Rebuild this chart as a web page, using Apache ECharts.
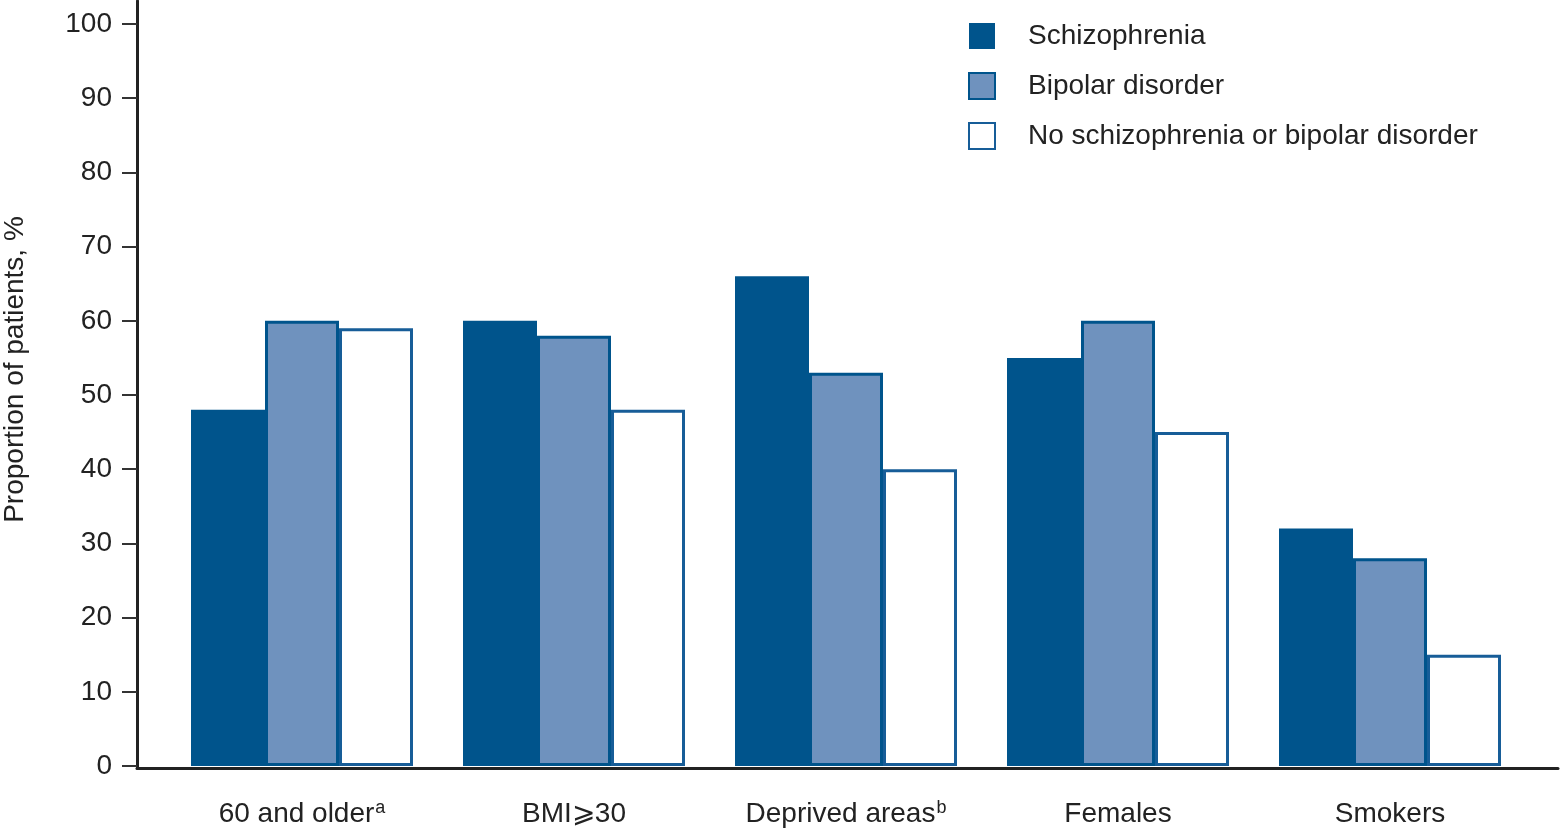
<!DOCTYPE html>
<html>
<head>
<meta charset="utf-8">
<script src="https://cdn.jsdelivr.net/npm/echarts@6/dist/echarts.min.js"></script>
<style>html,body{margin:0;padding:0;background:#fff}#c{width:1560px;height:828px}</style>
</head>
<body>
<div id="c"></div>
<script>
const categories = ['60 and older{sup|a}', 'BMI\u2a7e30', 'Deprived areas{sup|b}', 'Females', 'Smokers'];
const seriesNames = ['Schizophrenia', 'Bipolar disorder', 'No schizophrenia or bipolar disorder'];
const schizophrenia = [48, 60, 66, 55, 32];
const bipolar = [60, 58, 53, 60, 28];
const noDisorder = [59, 48, 40, 45, 15];
const yTicks = [0, 10, 20, 30, 40, 50, 60, 70, 80, 90, 100];

const FONT = '"Liberation Sans", Arial, sans-serif';
const DARK = '#00548c';
const chart = echarts.init(document.getElementById('c'));
chart.setOption({
  animation: false,
  textStyle: { fontFamily: FONT },
  legend: {
    orient: 'vertical', left: 968, top: 22, padding: 0,
    itemWidth: 26, itemHeight: 26, itemGap: 22, icon: 'rect',
    textStyle: { fontSize: 28, color: '#222', padding: [0, 0, 0, 28], fontFamily: FONT },
    data: seriesNames
  },
  grid: [
    { left: 166, right: 34, top: 24, bottom: 62, outerBoundsMode: 'none', containLabel: false },
    { left: 137, right: 2, top: 1, bottom: 60, outerBoundsMode: 'none', containLabel: false }
  ],
  xAxis: [
    { type: 'category', gridIndex: 0, data: categories,
      axisLine: { show: false }, axisTick: { show: false },
      axisLabel: { interval: 0, margin: 33, fontSize: 28, lineHeight: 30, color: '#222', fontFamily: FONT,
        rich: { sup: { fontSize: 18, lineHeight: 30, verticalAlign: 'top', padding: [0, 0, 0, 1], color: '#222' } } } },
    { type: 'value', gridIndex: 1, min: 0, max: 1,
      axisLine: { show: true, lineStyle: { color: '#222', width: 3 } },
      axisTick: { show: false }, axisLabel: { show: false }, splitLine: { show: false } }
  ],
  yAxis: [
    { type: 'value', gridIndex: 0, min: yTicks[0], max: yTicks[yTicks.length - 1], interval: 10, offset: 29,
      axisLine: { show: false },
      axisTick: { show: true, length: 15, lineStyle: { color: '#333', width: 2 } },
      axisLabel: { margin: 25, fontSize: 28, color: '#222', fontFamily: FONT },
      splitLine: { show: false } },
    { type: 'value', gridIndex: 1, min: 0, max: 1,
      name: 'Proportion of patients, %', nameLocation: 'middle', nameGap: 108,
      nameTextStyle: { fontSize: 28, color: '#222', fontFamily: FONT, padding: [0, 0, 0, 30] },
      axisLine: { show: true, lineStyle: { color: '#222', width: 3 } },
      axisTick: { show: false }, axisLabel: { show: false }, splitLine: { show: false } }
  ],
  series: [
    { name: seriesNames[0], type: 'bar', xAxisIndex: 0, yAxisIndex: 0, data: schizophrenia,
      barWidth: 74, barGap: '0%',
      itemStyle: { color: DARK } },
    { name: seriesNames[1], type: 'bar', xAxisIndex: 0, yAxisIndex: 0, data: bipolar,
      barWidth: 74, barGap: '0%',
      itemStyle: { color: '#6f92be', borderColor: DARK, borderWidth: 3 } },
    { name: seriesNames[2], type: 'bar', xAxisIndex: 0, yAxisIndex: 0, data: noDisorder,
      barWidth: 74, barGap: '0%',
      itemStyle: { color: '#ffffff', borderColor: '#175d98', borderWidth: 3 } }
  ]
});
</script>
</body>
</html>
